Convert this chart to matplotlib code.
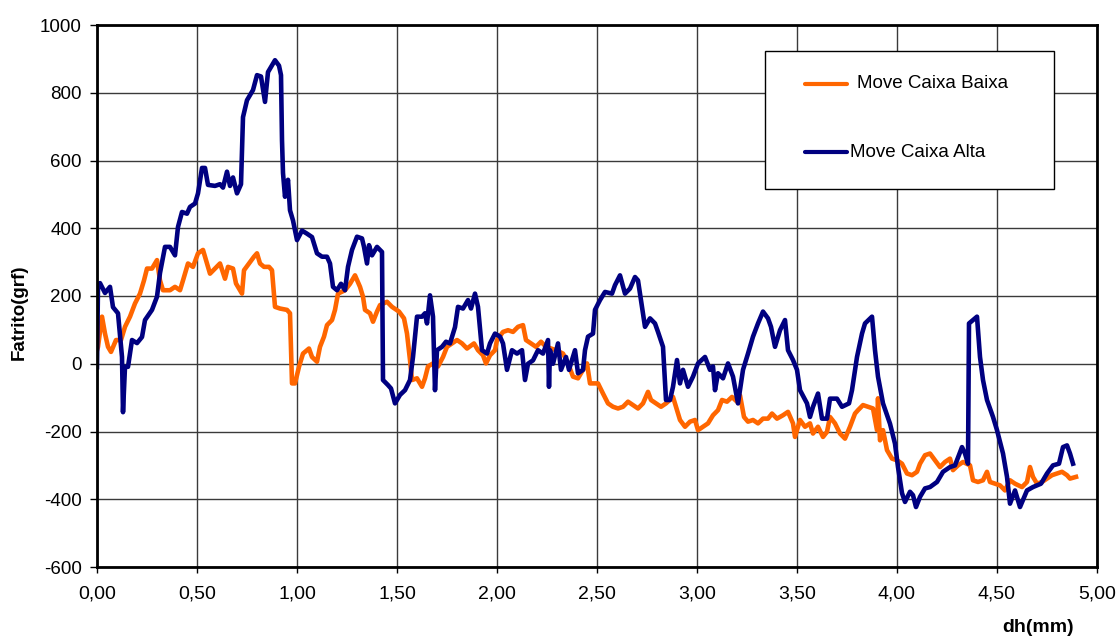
import matplotlib
matplotlib.use("Agg")
import matplotlib.pyplot as plt
from matplotlib.lines import Line2D
from matplotlib.patches import Rectangle
from matplotlib.ticker import FuncFormatter, MultipleLocator

plt.rcParams['font.family'] = ['Liberation Sans', 'DejaVu Sans']

# ---- data ----
baixa_x = [0.0, 0.005, 0.025, 0.04, 0.055, 0.07, 0.095, 0.12, 0.14, 0.165, 0.19, 0.215, 0.235, 0.25, 0.275,
           0.3, 0.315, 0.33, 0.365, 0.39, 0.415, 0.43, 0.455, 0.48, 0.505, 0.53, 0.55, 0.565, 0.59, 0.615,
           0.64, 0.655, 0.68, 0.695, 0.725, 0.735, 0.76, 0.785, 0.8, 0.815, 0.835, 0.86, 0.875, 0.89, 0.915,
           0.95, 0.965, 0.975, 0.99, 1.01, 1.03, 1.06, 1.075, 1.1, 1.115, 1.135, 1.15, 1.175, 1.19, 1.205,
           1.24, 1.265, 1.29, 1.315, 1.33, 1.34, 1.365, 1.38, 1.4, 1.415, 1.45, 1.475, 1.51, 1.535, 1.55,
           1.565, 1.575, 1.6, 1.625, 1.64, 1.655, 1.68, 1.705, 1.73, 1.75, 1.775, 1.8, 1.825, 1.85, 1.885,
           1.905, 1.93, 1.945, 1.965, 1.99, 2.0, 2.03, 2.055, 2.08, 2.105, 2.13, 2.145, 2.17, 2.195, 2.22,
           2.245, 2.27, 2.295, 2.33, 2.355, 2.38, 2.405, 2.43, 2.45, 2.465, 2.48, 2.505, 2.53, 2.555, 2.58,
           2.605, 2.63, 2.655, 2.68, 2.705, 2.73, 2.755, 2.77, 2.795, 2.82, 2.845, 2.88, 2.895, 2.915, 2.94,
           2.965, 2.99, 3.005, 3.03, 3.055, 3.08, 3.105, 3.125, 3.15, 3.175, 3.2, 3.215, 3.235, 3.255, 3.28,
           3.305, 3.33, 3.355, 3.375, 3.4, 3.43, 3.455, 3.48, 3.49, 3.515, 3.54, 3.565, 3.58, 3.605, 3.63,
           3.65, 3.665, 3.69, 3.715, 3.74, 3.765, 3.79, 3.805, 3.83, 3.855, 3.88, 3.9, 3.905, 3.915, 3.93,
           3.95, 3.975, 4.0, 4.025, 4.05, 4.075, 4.1, 4.115, 4.14, 4.165, 4.19, 4.215, 4.24, 4.265, 4.28,
           4.305, 4.33, 4.365, 4.38, 4.405, 4.43, 4.45, 4.465, 4.49, 4.515, 4.54, 4.565, 4.59, 4.625, 4.65,
           4.665, 4.68, 4.7, 4.725, 4.75, 4.775, 4.8, 4.825, 4.85, 4.865, 4.895]
baixa_y = [40, 50, 139, 89, 50, 35, 70, 70, 109, 139, 178, 207, 246, 281, 281,
           306, 246, 217, 217, 227, 217, 246, 296, 286, 326, 336, 296, 266, 281, 296,
           251, 286, 281, 237, 207, 276, 296, 316, 326, 296, 286, 286, 276, 168, 163,
           159, 149, -58, -58, -9, 30, 45, 20, 6, 50, 80, 114, 129, 159, 207,
           217, 236, 261, 227, 198, 159, 149, 124, 154, 173, 183, 168, 154, 134, 89,
           11, -48, -43, -68, -43, -8, 1, -8, 20, 50, 60, 70, 60, 45, 60,
           40, 25, 1, 25, 40, 70, 94, 99, 94, 109, 114, 70, 60, 50, 65,
           50, 45, 40, 30, 1, -38, -43, -18, 1, -58, -58, -58, -88, -117, -127,
           -132, -127, -112, -122, -132, -117, -83, -107, -117, -127, -117, -98, -127, -166, -186,
           -171, -166, -196, -186, -176, -152, -137, -107, -112, -98, -112, -93, -157, -171, -166,
           -176, -162, -162, -147, -162, -152, -142, -176, -216, -166, -186, -176, -206, -186, -216,
           -201, -157, -176, -206, -221, -186, -147, -137, -122, -127, -132, -196, -102, -226, -196,
           -255, -280, -285, -295, -324, -329, -319, -295, -270, -265, -285, -305, -290, -280, -314,
           -300, -290, -300, -344, -349, -344, -319, -349, -354, -359, -374, -344, -354, -364, -349,
           -305, -334, -354, -349, -339, -329, -324, -319, -329, -339, -334]

alta_x = [0.0, 0.005, 0.015, 0.04, 0.065, 0.08, 0.105, 0.125, 0.13, 0.14, 0.155, 0.175, 0.2, 0.225, 0.24,
          0.275, 0.3, 0.315, 0.34, 0.365, 0.39, 0.405, 0.425, 0.45, 0.465, 0.49, 0.505, 0.525, 0.54, 0.555,
          0.59, 0.615, 0.63, 0.65, 0.665, 0.68, 0.7, 0.72, 0.73, 0.75, 0.78, 0.8, 0.82, 0.84, 0.855,
          0.87, 0.89, 0.91, 0.92, 0.925, 0.93, 0.94, 0.955, 0.965, 0.98, 1.0, 1.025, 1.05, 1.075, 1.1,
          1.125, 1.15, 1.165, 1.18, 1.2, 1.22, 1.24, 1.255, 1.275, 1.3, 1.325, 1.335, 1.35, 1.36, 1.375,
          1.4, 1.425, 1.43, 1.455, 1.47, 1.49, 1.515, 1.54, 1.565, 1.58, 1.6, 1.625, 1.64, 1.65, 1.665,
          1.68, 1.69, 1.7, 1.725, 1.745, 1.765, 1.79, 1.805, 1.83, 1.855, 1.87, 1.89, 1.905, 1.925, 1.95,
          1.965, 1.99, 2.015, 2.03, 2.05, 2.075, 2.1, 2.125, 2.14, 2.155, 2.18, 2.205, 2.23, 2.255, 2.26,
          2.265, 2.28, 2.305, 2.32, 2.345, 2.36, 2.39, 2.405, 2.43, 2.44, 2.455, 2.48, 2.49, 2.515, 2.54,
          2.575, 2.59, 2.615, 2.64, 2.665, 2.69, 2.705, 2.72, 2.74, 2.765, 2.79, 2.805, 2.83, 2.845, 2.865,
          2.88, 2.9, 2.915, 2.93, 2.955, 2.98, 3.005, 3.04, 3.065, 3.08, 3.09, 3.105, 3.13, 3.155, 3.18,
          3.205, 3.23, 3.255, 3.28, 3.305, 3.33, 3.355, 3.37, 3.39, 3.415, 3.44, 3.455, 3.48, 3.5, 3.515,
          3.55, 3.565, 3.58, 3.605, 3.625, 3.65, 3.665, 3.7, 3.725, 3.76, 3.775, 3.8, 3.825, 3.84, 3.875,
          3.89, 3.905, 3.93, 3.965, 3.99, 4.005, 4.025, 4.04, 4.065, 4.08, 4.095, 4.115, 4.14, 4.165, 4.2,
          4.23, 4.265, 4.29, 4.325, 4.34, 4.355, 4.36, 4.38, 4.4, 4.415, 4.43, 4.45, 4.48, 4.5, 4.53,
          4.55, 4.565, 4.59, 4.615, 4.65, 4.68, 4.72, 4.75, 4.78, 4.81, 4.83, 4.85, 4.865, 4.88]
alta_y = [-10, 230, 238, 209, 227, 167, 149, 20, -143, -9, -9, 70, 61, 79, 129,
          159, 198, 268, 345, 345, 320, 404, 448, 443, 463, 473, 503, 578, 578, 528,
          525, 530, 520, 567, 525, 550, 503, 530, 728, 778, 808, 852, 848, 773, 861,
          876, 896, 880, 852, 660, 563, 493, 543, 453, 423, 365, 393, 384, 374, 326,
          316, 316, 296, 227, 217, 236, 217, 286, 336, 375, 370, 345, 296, 350, 320,
          345, 330, -48, -63, -73, -117, -92, -78, -48, 20, 139, 139, 149, 119, 202,
          139, -78, 40, 50, 65, 60, 108, 168, 163, 188, 163, 207, 168, 40, 30,
          60, 89, 80, 60, -18, 40, 30, 40, -48, 0, 10, 40, 30, 70, -68,
          40, 0, 60, -18, 20, -18, 40, -28, -18, 40, 80, 89, 159, 188, 212,
          207, 232, 261, 207, 222, 256, 246, 188, 109, 134, 119, 94, 50, -107, -107,
          -68, 11, -58, -18, -68, -38, 1, 20, -18, -8, -78, -28, -43, 1, -38,
          -117, -18, 30, 80, 119, 154, 134, 109, 50, 99, 129, 40, 11, -18, -78,
          -117, -157, -127, -88, -162, -162, -103, -103, -127, -117, -78, 20, 89, 119, 139,
          40, -38, -117, -177, -236, -305, -382, -408, -378, -388, -423, -393, -368, -364, -349,
          -319, -305, -300, -246, -265, -295, 119, 129, 139, 20, -48, -107, -157, -196, -265,
          -334, -413, -374, -423, -374, -364, -354, -324, -300, -295, -246, -241, -265, -295]

series_labels = ["Move Caixa Baixa", "Move Caixa Alta"]
x_label = "dh(mm)"
y_label = "Fatrito(grf)"

ORANGE = "#FF6600"
NAVY = "#000080"

W, H = 1117, 641
fig = plt.figure(figsize=(W / 100, H / 100), dpi=100)
ax = fig.add_axes([97 / W, 1 - 567 / H, 1000 / W, 542 / H])

ax.plot(baixa_x, baixa_y, color=ORANGE, lw=3.3, solid_joinstyle='round', zorder=3)
ax.plot(alta_x, alta_y, color=NAVY, lw=3.3, solid_joinstyle='round', zorder=4)

ax.set_xlim(0, 5)
ax.set_ylim(-600, 1000)
ax.xaxis.set_major_locator(MultipleLocator(0.5))
ax.yaxis.set_major_locator(MultipleLocator(200))
ax.xaxis.set_major_formatter(FuncFormatter(lambda v, p: f"{v:.2f}".replace('.', ',')))
ax.yaxis.set_major_formatter(FuncFormatter(lambda v, p: f"{int(round(v))}"))
ax.grid(True, color='#3a3a3a', lw=1.0, zorder=1)
for s in ax.spines.values():
    s.set_linewidth(2.0)
    s.set_color('black')
    s.set_zorder(5)
ax.tick_params(axis='x', direction='out', length=4.5, width=1, labelsize=14, pad=8.5)
ax.tick_params(axis='y', direction='out', length=5, width=1, labelsize=13.5, pad=6)

fig.text(1038 / W, 1 - 627 / H, x_label, ha='center', va='center', fontsize=14, fontweight='bold')
fig.text(19 / W, 1 - 312 / H, y_label, ha='center', va='center', rotation=90, fontsize=13.5,
         fontweight='bold')

# legend box
fig.patches.append(Rectangle((765 / W, 1 - 189 / H), (1054 - 765) / W, (189 - 51) / H,
                             transform=fig.transFigure, facecolor='white', edgecolor='black',
                             lw=1.0, zorder=10))
for yy, col, tx, lab in [(84, ORANGE, 857, series_labels[0]), (152, NAVY, 850, series_labels[1])]:
    fig.lines.append(Line2D([805 / W, 847 / W], [1 - yy / H, 1 - yy / H], transform=fig.transFigure,
                            color=col, lw=3.0, solid_capstyle='round', zorder=11))
    fig.text(tx / W, 1 - yy / H, lab, ha='left', va='center', fontsize=13.5, zorder=12)

fig.savefig("out.png", dpi=100)
